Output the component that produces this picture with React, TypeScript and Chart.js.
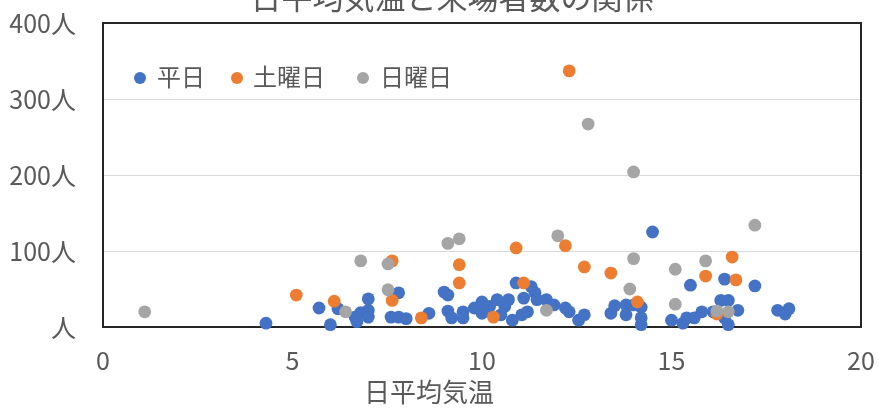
import React, { useEffect, useRef } from "react";
import { Chart, registerables } from "chart.js";

Chart.register(...registerables);

const chartTitle = "日平均気温と来場者数の関係";
const xAxisTitle = "日平均気温";
const seriesNames = ["平日", "土曜日", "日曜日"];
const seriesColors = ["#4472C4", "#ED7D31", "#A5A5A5"];
const xTicks = [0, 5, 10, 15, 20];
const yTicks = [0, 100, 200, 300, 400];
const yUnit = "人";

const weekdayTemp = [
  4.3, 5.7, 6.0, 6.2, 6.65, 6.7, 6.8, 7.0, 7.0, 7.0, 7.6, 7.8, 7.8, 8.0, 8.6,
  9.0, 9.1, 9.1, 9.2, 9.5, 9.5, 9.8, 10.0, 10.0, 10.2, 10.4, 10.5, 10.6, 10.7,
  10.8, 10.9, 11.05, 11.1, 11.2, 11.3, 11.4, 11.45, 11.7, 11.9, 12.2, 12.3,
  12.55, 12.7, 13.4, 13.5, 13.8, 13.8, 14.0, 14.2, 14.2, 14.2, 14.5, 15.0,
  15.3, 15.4, 15.5, 15.6, 15.8, 16.1, 16.3, 16.4, 16.4, 16.5, 16.5, 16.75,
  17.2, 17.8, 18.0, 18.1,
];
const weekdayVisitors = [
  5, 25, 3, 24, 13, 7, 19, 37, 22, 13, 13, 45, 13, 11, 18,
  46, 42, 21, 12, 20, 12, 25, 18, 33, 27, 36, 16, 27, 36,
  9, 58, 16, 38, 20, 53, 45, 36, 36, 29, 25, 20,
  9, 16, 18, 28, 29, 16, 29, 26, 12, 3, 125, 9,
  5, 12, 55, 12, 20, 20, 35, 63, 12, 35, 3, 22,
  54, 22, 17, 24,
];

const saturdayTemp = [
  5.1, 6.1, 7.63, 7.63, 8.4, 9.4, 9.4, 10.3, 10.9, 11.1, 12.2, 12.3, 12.7,
  13.4, 14.1, 15.9, 16.2, 16.6, 16.7,
];
const saturdayVisitors = [
  42, 34, 87, 35, 12, 82, 58, 13, 104, 58, 107, 337, 79,
  71, 33, 67, 17, 92, 62,
];

const sundayTemp = [
  1.1, 6.4, 6.8, 7.52, 7.52, 9.1, 9.4, 11.7, 12.0, 12.8, 14.0, 14.0, 13.9,
  15.1, 15.1, 15.9, 16.2, 16.5, 17.2,
];
const sundayVisitors = [
  20, 20, 87, 83, 49, 110, 116, 22, 120, 267, 204, 90, 50,
  76, 30, 87, 21, 20, 134,
];

const FONT = '"Noto Sans CJK JP", "Noto Sans", sans-serif';
const TEXT_COLOR = "#595959";

function toPoints(xs: number[], ys: number[]) {
  return xs.map((x, i) => ({ x, y: ys[i] }));
}

const decorPlugin = {
  id: "decor",
  beforeDatasetsDraw(chart: any) {
    const { ctx, chartArea } = chart;
    ctx.save();
    ctx.strokeStyle = "#262626";
    ctx.lineWidth = 2;
    ctx.strokeRect(
      chartArea.left,
      chartArea.top,
      chartArea.right - chartArea.left,
      chartArea.bottom - chartArea.top
    );
    ctx.restore();
  },
  afterDraw(chart: any) {
    const { ctx } = chart;
    ctx.save();
    // title (partly cut off at top)
    ctx.fillStyle = TEXT_COLOR;
    ctx.font = `31px ${FONT}`;
    ctx.textAlign = "center";
    ctx.textBaseline = "middle";
    ctx.fillText(chartTitle, 452, -3);
    // x axis title
    ctx.font = `26px ${FONT}`;
    ctx.fillText(xAxisTitle, 429, 392);
    // legend
    const legendX = [140, 237, 363];
    const textX = [157, 253, 380];
    ctx.font = `24px ${FONT}`;
    ctx.textAlign = "left";
    seriesNames.forEach((name, i) => {
      ctx.beginPath();
      ctx.fillStyle = seriesColors[i];
      ctx.arc(legendX[i], 78, 6, 0, Math.PI * 2);
      ctx.fill();
      ctx.fillStyle = TEXT_COLOR;
      ctx.fillText(name, textX[i], 77);
    });
    ctx.restore();
  },
};

export default function App() {
  const canvasRef = useRef<HTMLCanvasElement>(null);

  useEffect(() => {
    document.body.style.margin = "0";
    const canvas = canvasRef.current;
    if (!canvas) return;
    const seriesData = [
      toPoints(weekdayTemp, weekdayVisitors),
      toPoints(saturdayTemp, saturdayVisitors),
      toPoints(sundayTemp, sundayVisitors),
    ];
    const chart = new Chart(canvas, {
      type: "scatter",
      data: {
        datasets: seriesNames.map((name, i) => ({
          label: name,
          data: seriesData[i],
          backgroundColor: seriesColors[i],
          borderColor: seriesColors[i],
          borderWidth: 0,
          pointRadius: 6.4,
          pointHoverRadius: 6.4,
          order: 3 - i,
          clip: false as any,
        })),
      },
      options: {
        animation: false,
        responsive: false,
        maintainAspectRatio: false,
        layout: { padding: { left: 0, top: 23, right: 18, bottom: 0 } },
        plugins: {
          legend: { display: false },
          title: { display: false },
          tooltip: { enabled: false },
        },
        scales: {
          x: {
            type: "linear",
            min: xTicks[0],
            max: xTicks[xTicks.length - 1],
            afterBuildTicks: (scale: any) => {
              scale.ticks = xTicks.map((v) => ({ value: v }));
            },
            afterFit: (scale: any) => {
              scale.height = 81;
            },
            grid: {
              display: true,
              color: "rgba(0,0,0,0)",
              drawTicks: true,
              tickLength: 18,
              tickColor: "rgba(0,0,0,0)",
            },
            border: { display: false },
            ticks: {
              color: TEXT_COLOR,
              font: { family: FONT, size: 25 },
              padding: 0,
              maxRotation: 0,
            },
          },
          y: {
            type: "linear",
            min: yTicks[0],
            max: yTicks[yTicks.length - 1],
            afterBuildTicks: (scale: any) => {
              scale.ticks = yTicks.map((v) => ({ value: v }));
            },
            afterFit: (scale: any) => {
              scale.width = 103;
            },
            grid: {
              color: "#D9D9D9",
              lineWidth: 1,
              drawTicks: true,
              tickLength: 27,
              tickColor: "rgba(0,0,0,0)",
            },
            border: { display: false },
            ticks: {
              color: TEXT_COLOR,
              font: { family: FONT, size: 25 },
              padding: 0,
              callback: (v: any) => (v === 0 ? yUnit : `${v}${yUnit}`),
            },
          },
        },
      },
      plugins: [decorPlugin],
    });
    return () => chart.destroy();
  }, []);

  return (
    <div style={{ width: 879, height: 408 }}>
      <canvas ref={canvasRef} width={879} height={408} style={{ display: "block" }} />
    </div>
  );
}
